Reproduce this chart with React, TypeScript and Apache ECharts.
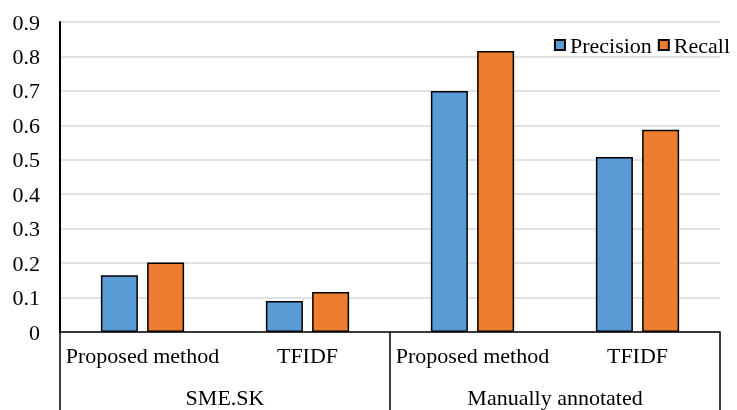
import React, { useEffect, useRef } from "react";
import * as echarts from "echarts";

const categories = ["Proposed method", "TFIDF", "Proposed method", "TFIDF"];
const groups = ["SME.SK", "Manually annotated"];
const precision = [0.165, 0.09, 0.7, 0.508];
const recall = [0.202, 0.116, 0.816, 0.587];

const FONT = "serif";

export default function App() {
  const ref = useRef<HTMLDivElement>(null);
  useEffect(() => {
    if (!ref.current) return;
    const chart = echarts.init(ref.current, undefined, { renderer: "svg" });
    chart.setOption({
      animation: false,
      grid: { left: 60, right: 17, top: 22, bottom: 78 },
      legend: {
        right: 2,
        top: 29,
        icon: "rect",
        itemWidth: 10,
        itemHeight: 10,
        itemGap: 6,
        textStyle: { fontFamily: FONT, fontSize: 22, color: "#000" },
        data: ["Precision", "Recall"],
      },
      xAxis: [
        {
          type: "category",
          data: categories,
          axisLine: { show: true, lineStyle: { color: "#000", width: 1.5 } },
          axisTick: { show: false },
          axisLabel: { fontFamily: FONT, fontSize: 22, color: "#000", margin: 12, interval: 0 },
        },
        {
          type: "category",
          data: groups,
          position: "bottom",
          axisLine: { show: false },
          axisTick: { show: true, length: 80, lineStyle: { color: "#000", width: 1.5 } },
          axisLabel: { fontFamily: FONT, fontSize: 22, color: "#000", margin: 54, interval: 0 },
        },
      ],
      yAxis: {
        type: "value",
        min: 0,
        max: 0.9,
        interval: 0.1,
        axisLine: { show: true, lineStyle: { color: "#000", width: 2 } },
        axisTick: { show: false },
        splitLine: { show: true, lineStyle: { color: "#d9d9d9", width: 1.5 } },
        axisLabel: { fontFamily: FONT, fontSize: 22, color: "#000", margin: 20 },
      },
      series: [
        {
          name: "Precision",
          type: "bar",
          data: precision,
          barWidth: 37,
          barGap: "25%",
          itemStyle: { color: "#5b9bd5", borderColor: "#000", borderWidth: 1.5 },
        },
        {
          name: "Recall",
          type: "bar",
          data: recall,
          barWidth: 37,
          barGap: "25%",
          itemStyle: { color: "#ed7d31", borderColor: "#000", borderWidth: 1.5 },
        },
      ],
    });
    return () => chart.dispose();
  }, []);
  return <div ref={ref} style={{ position: "fixed", left: 0, top: 0, width: 737, height: 410 }} />;
}
